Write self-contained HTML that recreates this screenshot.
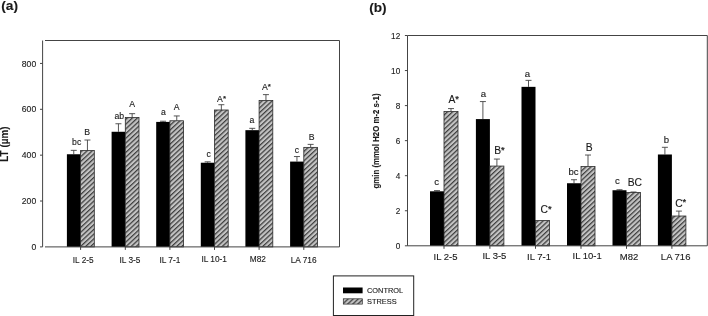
<!DOCTYPE html>
<html><head><meta charset="utf-8"><title>chart</title>
<style>
html,body{margin:0;padding:0;background:#fff;}
body{width:708px;height:316px;overflow:hidden;font-family:"Liberation Sans",sans-serif;}
svg{display:block;filter:grayscale(1);}
text{font-family:"Liberation Sans",sans-serif;fill:#1a1a1a;stroke:#1a1a1a;stroke-width:0.12px;}
</style></head><body>
<svg width="708" height="316" viewBox="0 0 708 316">
<defs>
<pattern id="h" width="3.45" height="10" patternUnits="userSpaceOnUse" patternTransform="rotate(47)">
<rect width="3.45" height="10" fill="#c3c3c3"/>
<rect x="0" y="0" width="1.25" height="10" fill="#3e3e3e"/>
</pattern>
</defs>
<rect width="708" height="316" fill="#fff"/>

<g id="a">
<path d="M73.75 154.25V150.35M70.75 150.35H76.75" stroke="#444" stroke-width="0.9" fill="none"/>
<path d="M87.45 150.58V140.03M84.45 140.03H90.45" stroke="#444" stroke-width="0.9" fill="none"/>
<rect x="66.9" y="154.25" width="13.7" height="92.65" fill="#000"/>
<rect x="80.6" y="150.58" width="13.7" height="96.32" fill="url(#h)" stroke="#2a2a2a" stroke-width="0.8"/>
<text x="76.65" y="145.2" font-size="8.7" text-anchor="middle">bc</text>
<text x="87.25" y="135" font-size="8.7" text-anchor="middle">B</text>
<path d="M118.45 131.77V123.75M115.45 123.75H121.45" stroke="#444" stroke-width="0.9" fill="none"/>
<path d="M132.15 117.56V113.66M129.15 113.66H135.15" stroke="#444" stroke-width="0.9" fill="none"/>
<rect x="111.6" y="131.77" width="13.7" height="115.13" fill="#000"/>
<rect x="125.3" y="117.56" width="13.7" height="129.34" fill="url(#h)" stroke="#2a2a2a" stroke-width="0.8"/>
<text x="119.35" y="118.5" font-size="8.7" text-anchor="middle">ab</text>
<text x="132.25" y="107" font-size="8.7" text-anchor="middle">A</text>
<path d="M163.05 121.91V121.23M160.05 121.23H166.05" stroke="#444" stroke-width="0.9" fill="none"/>
<path d="M176.75 120.77V115.95M173.75 115.95H179.75" stroke="#444" stroke-width="0.9" fill="none"/>
<rect x="156.2" y="121.91" width="13.7" height="124.99" fill="#000"/>
<rect x="169.9" y="120.77" width="13.7" height="126.13" fill="url(#h)" stroke="#2a2a2a" stroke-width="0.8"/>
<text x="163.45" y="115" font-size="8.7" text-anchor="middle">a</text>
<text x="176.75" y="109.8" font-size="8.7" text-anchor="middle">A</text>
<path d="M207.65 162.73V161.82M204.65 161.82H210.65" stroke="#444" stroke-width="0.9" fill="none"/>
<path d="M221.35 109.99V104.71M218.35 104.71H224.35" stroke="#444" stroke-width="0.9" fill="none"/>
<rect x="200.8" y="162.73" width="13.7" height="84.17" fill="#000"/>
<rect x="214.5" y="109.99" width="13.7" height="136.91" fill="url(#h)" stroke="#2a2a2a" stroke-width="0.8"/>
<text x="208.65" y="156.5" font-size="8.7" text-anchor="middle">c</text>
<text x="221.55" y="101.8" font-size="8.7" text-anchor="middle">A<tspan font-size="8" dy="-0.96" stroke="#222" stroke-width="0.25">*</tspan></text>
<path d="M252.25 130.17V128.33M249.25 128.33H255.25" stroke="#444" stroke-width="0.9" fill="none"/>
<path d="M265.95 100.59V94.62M262.95 94.62H268.95" stroke="#444" stroke-width="0.9" fill="none"/>
<rect x="245.4" y="130.17" width="13.7" height="116.73" fill="#000"/>
<rect x="259.1" y="100.59" width="13.7" height="146.31" fill="url(#h)" stroke="#2a2a2a" stroke-width="0.8"/>
<text x="251.95" y="123.4" font-size="8.7" text-anchor="middle">a</text>
<text x="266.35" y="90.3" font-size="8.7" text-anchor="middle">A<tspan font-size="8" dy="-0.96" stroke="#222" stroke-width="0.25">*</tspan></text>
<path d="M296.95 161.59V156.54M293.95 156.54H299.95" stroke="#444" stroke-width="0.9" fill="none"/>
<path d="M310.65 147.37V144.39M307.65 144.39H313.65" stroke="#444" stroke-width="0.9" fill="none"/>
<rect x="290.1" y="161.59" width="13.7" height="85.31" fill="#000"/>
<rect x="303.8" y="147.37" width="13.7" height="99.53" fill="url(#h)" stroke="#2a2a2a" stroke-width="0.8"/>
<text x="296.95" y="152.7" font-size="8.7" text-anchor="middle">c</text>
<text x="311.65" y="140.2" font-size="8.7" text-anchor="middle">B</text>
<path d="M42.6 40.5V246.9" stroke="#444" stroke-width="1" fill="none"/>
<path d="M45 40.5H339.5V246.9H45" stroke="#444" stroke-width="1" fill="none"/>
<path d="M40 246.9H42.6" stroke="#444" stroke-width="1"/>
<text x="36.2" y="250" font-size="8.6" text-anchor="end">0</text>
<path d="M40 201.03H42.6" stroke="#444" stroke-width="1"/>
<text x="36.2" y="204.13" font-size="8.6" text-anchor="end">200</text>
<path d="M40 155.17H42.6" stroke="#444" stroke-width="1"/>
<text x="36.2" y="158.26" font-size="8.6" text-anchor="end">400</text>
<path d="M40 109.3H42.6" stroke="#444" stroke-width="1"/>
<text x="36.2" y="112.4" font-size="8.6" text-anchor="end">600</text>
<path d="M40 63.43H42.6" stroke="#444" stroke-width="1"/>
<text x="36.2" y="66.53" font-size="8.6" text-anchor="end">800</text>
<path d="M80.6 246.9V249.9" stroke="#444" stroke-width="1"/>
<text x="83.2" y="262.6" font-size="8.3" text-anchor="middle">IL 2-5</text>
<path d="M125.3 246.9V249.9" stroke="#444" stroke-width="1"/>
<text x="130" y="262.8" font-size="8.3" text-anchor="middle">IL 3-5</text>
<path d="M169.9 246.9V249.9" stroke="#444" stroke-width="1"/>
<text x="169.9" y="262.8" font-size="8.3" text-anchor="middle">IL 7-1</text>
<path d="M214.5 246.9V249.9" stroke="#444" stroke-width="1"/>
<text x="214.2" y="261.8" font-size="8.3" text-anchor="middle">IL 10-1</text>
<path d="M259.1 246.9V249.9" stroke="#444" stroke-width="1"/>
<text x="257.8" y="261.6" font-size="8.3" text-anchor="middle">M82</text>
<path d="M303.8 246.9V249.9" stroke="#444" stroke-width="1"/>
<text x="303.6" y="262.5" font-size="8.3" text-anchor="middle">LA 716</text>
</g>
<g id="b">
<path d="M437 191.3V190.6M434 190.6H440" stroke="#444" stroke-width="0.9" fill="none"/>
<path d="M451 111.56V108.58M448 108.58H454" stroke="#444" stroke-width="0.9" fill="none"/>
<rect x="430" y="191.3" width="14" height="54.5" fill="#000"/>
<rect x="444" y="111.56" width="14" height="134.24" fill="url(#h)" stroke="#2a2a2a" stroke-width="0.8"/>
<text x="436.6" y="184.9" font-size="9.6" text-anchor="middle">c</text>
<text x="453.7" y="103.4" font-size="10.3" text-anchor="middle">A<tspan font-size="9.48" dy="-1.13" stroke="#222" stroke-width="0.25">*</tspan></text>
<path d="M482.9 119.09V101.57M479.9 101.57H485.9" stroke="#444" stroke-width="0.9" fill="none"/>
<path d="M496.9 166.06V159.05M493.9 159.05H499.9" stroke="#444" stroke-width="0.9" fill="none"/>
<rect x="475.9" y="119.09" width="14" height="126.71" fill="#000"/>
<rect x="489.9" y="166.06" width="14" height="79.74" fill="url(#h)" stroke="#2a2a2a" stroke-width="0.8"/>
<text x="483.3" y="96.9" font-size="9.6" text-anchor="middle">a</text>
<text x="499.5" y="154" font-size="10.3" text-anchor="middle">B<tspan font-size="9.48" dy="-1.13" stroke="#222" stroke-width="0.25">*</tspan></text>
<path d="M528.5 86.85V80.36M525.5 80.36H531.5" stroke="#444" stroke-width="0.9" fill="none"/>
<rect x="521.5" y="86.85" width="14" height="158.95" fill="#000"/>
<rect x="535.5" y="220.56" width="14" height="25.24" fill="url(#h)" stroke="#2a2a2a" stroke-width="0.8"/>
<text x="527.3" y="77.4" font-size="9.6" text-anchor="middle">a</text>
<text x="546.1" y="212.9" font-size="10.3" text-anchor="middle">C<tspan font-size="9.48" dy="-1.13" stroke="#222" stroke-width="0.25">*</tspan></text>
<path d="M574 183.24V179.73M571 179.73H577" stroke="#444" stroke-width="0.9" fill="none"/>
<path d="M588 166.59V155.02M585 155.02H591" stroke="#444" stroke-width="0.9" fill="none"/>
<rect x="567" y="183.24" width="14" height="62.56" fill="#000"/>
<rect x="581" y="166.59" width="14" height="79.21" fill="url(#h)" stroke="#2a2a2a" stroke-width="0.8"/>
<text x="573.6" y="175.4" font-size="9.6" text-anchor="middle">bc</text>
<text x="589.2" y="150.6" font-size="10.3" text-anchor="middle">B</text>
<path d="M619.5 190.25V189.72M616.5 189.72H622.5" stroke="#444" stroke-width="0.9" fill="none"/>
<path d="M633.5 192.52V192M630.5 192H636.5" stroke="#444" stroke-width="0.9" fill="none"/>
<rect x="612.5" y="190.25" width="14" height="55.55" fill="#000"/>
<rect x="626.5" y="192.52" width="14" height="53.28" fill="url(#h)" stroke="#2a2a2a" stroke-width="0.8"/>
<text x="617.5" y="184" font-size="9.6" text-anchor="middle">c</text>
<text x="634.9" y="186" font-size="10.3" text-anchor="middle">BC</text>
<path d="M664.9 154.49V147.31M661.9 147.31H667.9" stroke="#444" stroke-width="0.9" fill="none"/>
<path d="M678.9 216.01V211.1M675.9 211.1H681.9" stroke="#444" stroke-width="0.9" fill="none"/>
<rect x="657.9" y="154.49" width="14" height="91.31" fill="#000"/>
<rect x="671.9" y="216.01" width="14" height="29.79" fill="url(#h)" stroke="#2a2a2a" stroke-width="0.8"/>
<text x="666.3" y="143.4" font-size="9.6" text-anchor="middle">b</text>
<text x="680.7" y="206.6" font-size="10.3" text-anchor="middle">C<tspan font-size="9.48" dy="-1.13" stroke="#222" stroke-width="0.25">*</tspan></text>
<path d="M407.5 245.8V35.5H707.3V245.8Z" stroke="#444" stroke-width="1" fill="none"/>
<path d="M404.9 245.8H407.5" stroke="#444" stroke-width="1"/>
<text x="400.2" y="248.95" font-size="8.2" text-anchor="end">0</text>
<path d="M404.9 210.75H407.5" stroke="#444" stroke-width="1"/>
<text x="400.2" y="213.9" font-size="8.2" text-anchor="end">2</text>
<path d="M404.9 175.7H407.5" stroke="#444" stroke-width="1"/>
<text x="400.2" y="178.85" font-size="8.2" text-anchor="end">4</text>
<path d="M404.9 140.65H407.5" stroke="#444" stroke-width="1"/>
<text x="400.2" y="143.8" font-size="8.2" text-anchor="end">6</text>
<path d="M404.9 105.6H407.5" stroke="#444" stroke-width="1"/>
<text x="400.2" y="108.75" font-size="8.2" text-anchor="end">8</text>
<path d="M404.9 70.55H407.5" stroke="#444" stroke-width="1"/>
<text x="400.2" y="73.7" font-size="8.2" text-anchor="end">10</text>
<path d="M404.9 35.5H407.5" stroke="#444" stroke-width="1"/>
<text x="400.2" y="38.65" font-size="8.2" text-anchor="end">12</text>
<path d="M444 245.8V248.8" stroke="#444" stroke-width="1"/>
<text x="445.5" y="260.2" font-size="9.5" text-anchor="middle">IL 2-5</text>
<path d="M489.9 245.8V248.8" stroke="#444" stroke-width="1"/>
<text x="494.4" y="259.2" font-size="9.5" text-anchor="middle">IL 3-5</text>
<path d="M535.5 245.8V248.8" stroke="#444" stroke-width="1"/>
<text x="539" y="259.6" font-size="9.5" text-anchor="middle">IL 7-1</text>
<path d="M581 245.8V248.8" stroke="#444" stroke-width="1"/>
<text x="587.2" y="258.7" font-size="9.5" text-anchor="middle">IL 10-1</text>
<path d="M626.5 245.8V248.8" stroke="#444" stroke-width="1"/>
<text x="629.1" y="259.5" font-size="9.5" text-anchor="middle">M82</text>
<path d="M671.9 245.8V248.8" stroke="#444" stroke-width="1"/>
<text x="675.65" y="259.6" font-size="9.5" text-anchor="middle">LA 716</text>
</g>
<text x="1.3" y="9.9" font-size="13.7" font-weight="bold" fill="#000">(a)</text>
<text x="369.2" y="11.7" font-size="13.6" font-weight="bold" fill="#000">(b)</text>
<text transform="translate(7.7,161.8) rotate(-90)" font-size="11" font-weight="bold" fill="#000" stroke="#000" stroke-width="0.2" textLength="35.4" lengthAdjust="spacingAndGlyphs">LT (µm)</text>
<text transform="translate(378.7,188.5) rotate(-90)" font-size="9.1" font-weight="bold" fill="#000" stroke="#000" stroke-width="0.1" textLength="95" lengthAdjust="spacingAndGlyphs">gmin (mmol H2O m-2 s-1)</text>
<rect x="333.4" y="275.9" width="80.3" height="39.6" fill="#fff" stroke="#222" stroke-width="1"/>
<rect x="343" y="287.5" width="19.6" height="5.8" fill="#000"/>
<rect x="343.3" y="298.8" width="19" height="5.3" fill="url(#h)" stroke="#2a2a2a" stroke-width="0.7"/>
<text x="367" y="293.4" font-size="7.4">CONTROL</text>
<text x="367" y="304.4" font-size="7.4">STRESS</text>
</svg></body></html>
